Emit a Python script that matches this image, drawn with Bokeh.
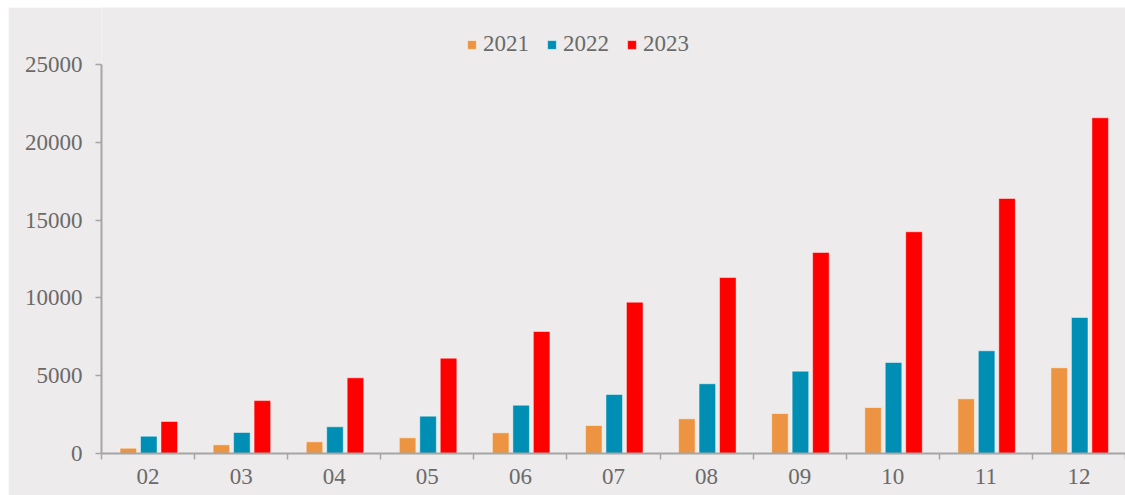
import numpy as np
from bokeh.plotting import figure
from bokeh.models import ColumnDataSource, Range1d, FixedTicker, Legend, LegendItem
from bokeh.transform import dodge
from bokeh.embed import file_html
from bokeh.resources import INLINE

months = ["02", "03", "04", "05", "06", "07", "08", "09", "10", "11", "12"]
v2021 = [340, 560, 750, 1010, 1330, 1800, 2230, 2570, 2955, 3515, 5510]
v2022 = [1110, 1350, 1715, 2400, 3105, 3790, 4480, 5290, 5850, 6600, 8740]
v2023 = [2060, 3400, 4865, 6125, 7840, 9725, 11310, 12920, 14250, 16390, 21575]
series = ["2021", "2022", "2023"]
colors = ["#EC9441", "#008FB4", "#FF0000"]
y_ticks = [0, 5000, 10000, 15000, 20000, 25000]

n = len(months)
centers = list(np.arange(n) + 0.5)
bounds = list(np.arange(n + 1).astype(float))
src = ColumnDataSource(dict(x=centers, a=v2021, b=v2022, c=v2023))

FONT = "Liberation Serif"
TXT = "#6A6A6A"
AX = "#A6A6A6"

# frame spans the full figure height minus the bottom axis; the value axis stops at 25000
FRAME_H = 446
AXIS_H = 389
p = figure(width=1117, height=488, output_backend="svg", toolbar_location=None,
           x_range=Range1d(0, n), y_range=Range1d(0, 25000 * FRAME_H / AXIS_H),
           min_border_left=93, min_border_right=0, min_border_top=0, min_border_bottom=42)
p.margin = (7, 0, 0, 8)
p.background_fill_color = "#EDEBEB"
p.border_fill_color = "#EDEBEB"
p.outline_line_color = None
p.xgrid.visible = False
p.ygrid.visible = False

offsets = [-0.22, 0.0, 0.22]
renderers = []
for col, off, color in zip(["a", "b", "c"], offsets, colors):
    r = p.vbar(x=dodge("x", off + 0.008, range=p.x_range), top=col, width=0.178, source=src,
               fill_color=color, line_color="white", line_alpha=0.45, line_width=1)
    renderers.append(r)

xa = p.xaxis[0]
xa.ticker = FixedTicker(ticks=centers, minor_ticks=bounds)
xa.major_label_overrides = {c: m for c, m in zip(centers, months)}
xa.major_tick_line_color = None
xa.minor_tick_out = 6
xa.minor_tick_in = 0
xa.minor_tick_line_color = AX
xa.minor_tick_line_width = 1.5
xa.axis_line_color = AX
xa.axis_line_width = 2
xa.major_label_text_font = FONT
xa.major_label_text_font_size = "23px"
xa.major_label_text_color = TXT
xa.major_label_standoff = 9

ya = p.yaxis[0]
ya.ticker = FixedTicker(ticks=y_ticks)
ya.bounds = (0, 25000)
ya.major_tick_out = 6
ya.major_tick_in = 0
ya.major_tick_line_color = AX
ya.major_tick_line_width = 1.5
ya.minor_tick_line_color = None
ya.axis_line_color = AX
ya.axis_line_width = 2
ya.major_label_text_font = FONT
ya.major_label_text_font_size = "23px"
ya.major_label_text_color = TXT
ya.major_label_standoff = 13

legend = Legend(items=[LegendItem(label=s, renderers=[r]) for s, r in zip(series, renderers)],
                location=(365, 396), orientation="horizontal",
                glyph_width=11, glyph_height=11, label_standoff=6, spacing=17,
                label_text_font=FONT, label_text_font_size="23px", label_text_color=TXT,
                label_height=22, padding=0, margin=0,
                border_line_color=None, background_fill_alpha=0)
p.add_layout(legend)

html = file_html(p, INLINE)
html = html.replace("<body>", '<body style="background:#F6F6F6">', 1)
open("out.html", "w").write(html)
